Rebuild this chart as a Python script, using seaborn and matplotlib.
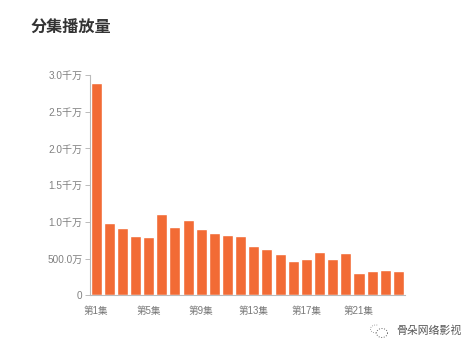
import matplotlib
matplotlib.use("Agg")
import matplotlib.pyplot as plt
from matplotlib.patches import Arc
import seaborn as sns
import pandas as pd

sns.set_theme(style="white")
plt.rcParams['font.family'] = ['Liberation Sans', 'Noto Sans CJK SC', 'DejaVu Sans']

episodes = [f"第{i}集" for i in range(1, 25)]
plays = [2885, 990, 912, 802, 798, 1102, 925, 1030, 898, 848, 826, 803,
         667, 626, 566, 461, 498, 593, 489, 570, 298, 325, 339, 329]
y_ticks = [0, 500, 1000, 1500, 2000, 2500, 3000]
y_labels = ["0", "500.0万", "1.0千万", "1.5千万", "2.0千万", "2.5千万", "3.0千万"]
x_label_every = 4
title = "分集播放量"
watermark = "骨朵网络影视"

W, H = 475, 351
fig = plt.figure(figsize=(W / 100, H / 100), dpi=100, facecolor="white")
ax = fig.add_axes([90 / W, 1 - 295.3 / H, (405 - 90) / W, (295.3 - 75) / H])

df = pd.DataFrame({"集": episodes, "播放量": plays})
sns.barplot(data=df, x="集", y="播放量", color="#F26B35", saturation=1,
            width=0.84, ax=ax)

ax.set_xlim(-0.46, 23.5)
ax.set_ylim(0, 3000)
ax.set_xlabel("")
ax.set_ylabel("")
ax.set_yticks(y_ticks, y_labels)

ax.set_xticks(range(0, 24, x_label_every), episodes[::x_label_every])
ax.set_xticks([-0.46] + [-0.5 + i for i in range(4, 24, x_label_every)] + [23.5], minor=True)
ax.tick_params(axis="x", which="major", length=0, pad=8, labelsize=6.9, labelcolor="#777777")
ax.tick_params(axis="x", which="minor", length=3, width=0.7, color="#bbbbbb")
ax.tick_params(axis="y", length=3.5, width=0.7, color="#bbbbbb", pad=2,
               labelsize=7.2, labelcolor="#808080", left=True)

sns.despine(ax=ax)
for side in ("left", "bottom"):
    ax.spines[side].set_color("#bbbbbb")
    ax.spines[side].set_linewidth(0.8)

fig.text(30 / W, 1 - 27 / H, title, fontsize=11.6, fontweight="bold",
         color="#333333", ha="left", va="center", family=['Noto Sans CJK SC', 'DejaVu Sans'])
fig.text(396 / W, 1 - 331 / H, watermark, fontsize=7.8, color="#555555",
         ha="left", va="center", family=['Noto Sans CJK SC', 'DejaVu Sans'])

# WeChat-style watermark icon
icon = fig.add_axes([368 / W, 1 - 339 / H, 22 / W, 18 / H])
icon.set_xlim(0, 22)
icon.set_ylim(18, 0)
icon.axis("off")
icon.add_patch(Arc((8, 8), 11, 8, theta1=90, theta2=300, color="#888888", lw=0.6, ls=":"))
icon.add_patch(Arc((14, 12), 11, 9, color="#666666", lw=0.7, ls=":"))

fig.savefig("out.png", dpi=100, facecolor="white")
